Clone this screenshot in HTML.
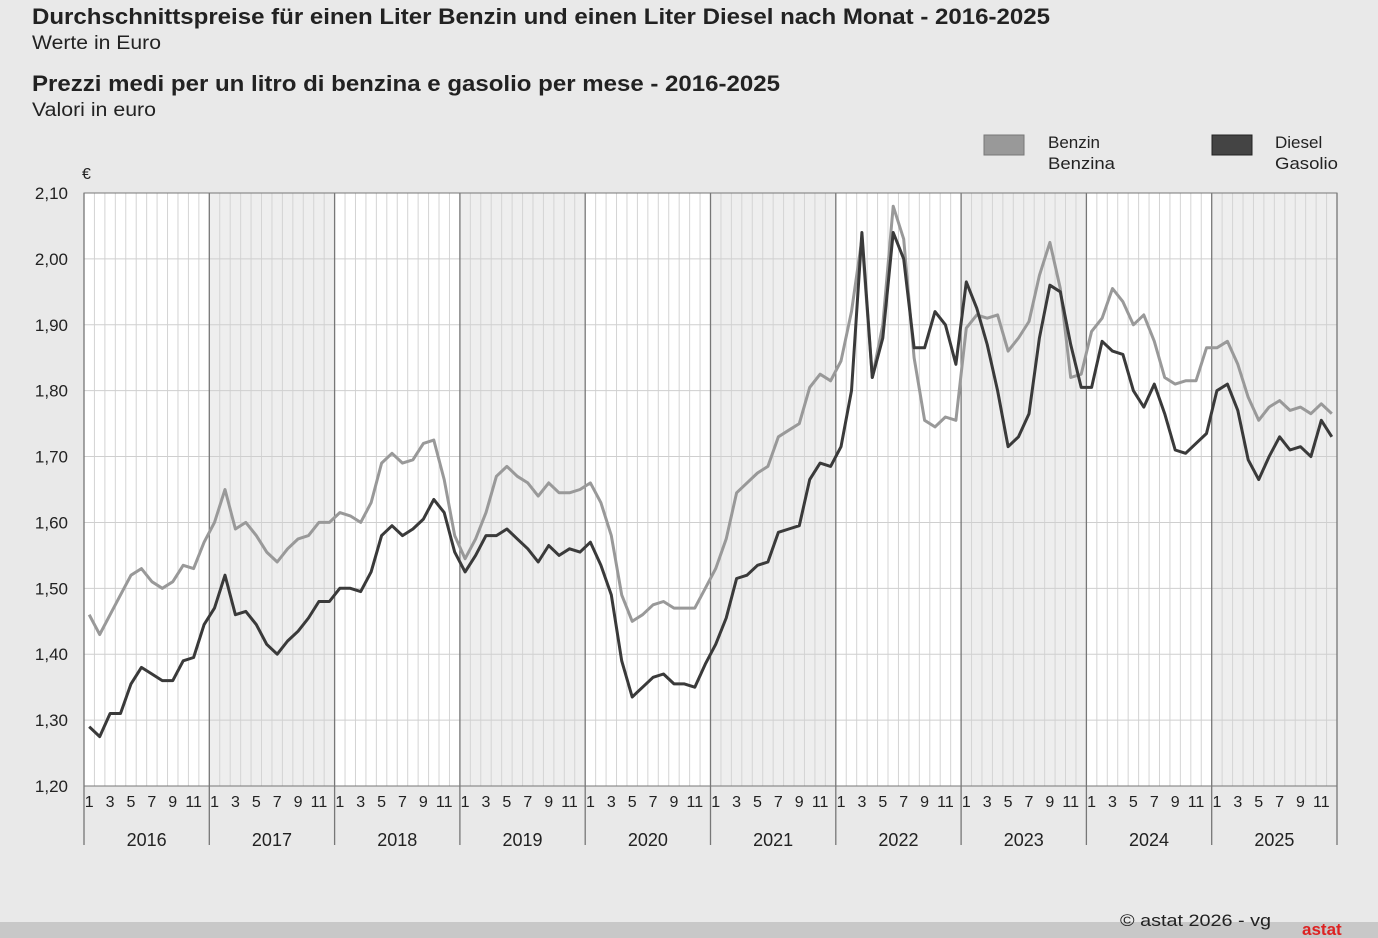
<!DOCTYPE html>
<html><head><meta charset="utf-8">
<style>
body{margin:0;background:#e9e9e9;font-family:"Liberation Sans",sans-serif;}
svg{display:block}
</style></head>
<body>
<svg id="s" width="1378" height="938" xmlns="http://www.w3.org/2000/svg" font-family="Liberation Sans, sans-serif">
<rect width="1378" height="938" fill="#e9e9e9"/>
<rect y="922" width="1378" height="16" fill="#c8c8c8"/>
<text x="32" y="24" font-size="22" font-weight="bold" fill="#222" textLength="1018" lengthAdjust="spacingAndGlyphs">Durchschnittspreise für einen Liter Benzin und einen Liter Diesel nach Monat - 2016-2025</text>
<text x="32" y="49" font-size="19" fill="#222" textLength="129" lengthAdjust="spacingAndGlyphs">Werte in Euro</text>
<text x="32" y="91" font-size="22" font-weight="bold" fill="#222" textLength="748" lengthAdjust="spacingAndGlyphs">Prezzi medi per un litro di benzina e gasolio per mese - 2016-2025</text>
<text x="32" y="116" font-size="19" fill="#222" textLength="124" lengthAdjust="spacingAndGlyphs">Valori in euro</text>
<rect x="984" y="135" width="40" height="20" fill="#999" stroke="#777"/>
<text x="1048" y="148" font-size="17" fill="#222">Benzin</text>
<text x="1048" y="169" font-size="17" fill="#222" textLength="67" lengthAdjust="spacingAndGlyphs">Benzina</text>
<rect x="1212" y="135" width="40" height="20" fill="#444" stroke="#222"/>
<text x="1275" y="148" font-size="17" fill="#222">Diesel</text>
<text x="1275" y="169" font-size="17" fill="#222" textLength="63" lengthAdjust="spacingAndGlyphs">Gasolio</text>
<text x="82" y="179" font-size="16" fill="#222">€</text>
<text x="1120" y="926" font-size="17" fill="#222" textLength="151" lengthAdjust="spacingAndGlyphs">© astat 2026 - vg</text>
<text x="1302" y="935" font-size="17" font-weight="bold" fill="#d22">astat</text>
<g id="g"></g>
</svg>
<script>
var g=document.getElementById('g'),h='';
var X0=84,X1=1337,Y0=193,Y1=786,mw=(X1-X0)/120;
function y(v){return Y1-(v-1.2)/0.9*(Y1-Y0);}
h+='<rect x="'+X0+'" y="'+Y0+'" width="'+(X1-X0)+'" height="'+(Y1-Y0)+'" fill="#fff"/>';
for(var yr=0;yr<10;yr++){if(yr%2==1)h+='<rect x="'+(X0+yr*12*mw)+'" y="'+Y0+'" width="'+(12*mw)+'" height="'+(Y1-Y0)+'" fill="#eeeeee"/>';}
for(var i=1;i<120;i++){if(i%12)h+='<line x1="'+(X0+i*mw)+'" x2="'+(X0+i*mw)+'" y1="'+Y0+'" y2="'+Y1+'" stroke="#d4d4d4" stroke-width="1"/>';}
for(var k=0;k<=9;k++){var v=1.2+k*0.1,yy=y(v);h+='<line x1="'+X0+'" x2="'+X1+'" y1="'+yy+'" y2="'+yy+'" stroke="#cfcfcf"/>';
h+='<text x="68" y="'+(yy+6)+'" font-size="17" text-anchor="end" fill="#222">'+v.toFixed(2).replace('.',',')+'</text>';}
for(var yr=0;yr<=10;yr++){var xx=X0+yr*12*mw;h+='<line x1="'+xx+'" x2="'+xx+'" y1="'+Y0+'" y2="845" stroke="#777" stroke-width="1.3"/>';
if(yr<10)h+='<text x="'+(xx+6*mw)+'" y="846" font-size="18" text-anchor="middle" fill="#222">'+(2016+yr)+'</text>';}
h+='<rect x="'+X0+'" y="'+Y0+'" width="'+(X1-X0)+'" height="'+(Y1-Y0)+'" fill="none" stroke="#777"/>';
for(var i=0;i<120;i+=2){h+='<text x="'+(X0+(i+0.5)*mw)+'" y="807" font-size="16" text-anchor="middle" fill="#222">'+((i%12)+1)+'</text>';}
var B=[1.46,1.43,1.46,1.49,1.52,1.53,1.51,1.50,1.51,1.535,1.53,1.57,
1.60,1.65,1.59,1.60,1.58,1.555,1.54,1.56,1.575,1.58,1.60,1.60,
1.615,1.61,1.60,1.63,1.69,1.705,1.69,1.695,1.72,1.725,1.665,1.58,
1.545,1.575,1.615,1.67,1.685,1.67,1.66,1.64,1.66,1.645,1.645,1.65,
1.66,1.63,1.58,1.49,1.45,1.46,1.475,1.48,1.47,1.47,1.47,1.50,
1.53,1.575,1.645,1.66,1.675,1.685,1.73,1.74,1.75,1.805,1.825,1.815,
1.845,1.92,2.03,1.82,1.90,2.08,2.03,1.85,1.755,1.745,1.76,1.755,
1.895,1.915,1.91,1.915,1.86,1.88,1.905,1.975,2.025,1.955,1.82,1.825,
1.89,1.91,1.955,1.935,1.90,1.915,1.875,1.82,1.81,1.815,1.815,1.865,
1.865,1.875,1.84,1.79,1.755,1.775,1.785,1.77,1.775,1.765,1.78,1.765];
var D=[1.29,1.275,1.31,1.31,1.355,1.38,1.37,1.36,1.36,1.39,1.395,1.445,
1.47,1.52,1.46,1.465,1.445,1.415,1.40,1.42,1.435,1.455,1.48,1.48,
1.50,1.50,1.495,1.525,1.58,1.595,1.58,1.59,1.605,1.635,1.615,1.555,
1.525,1.55,1.58,1.58,1.59,1.575,1.56,1.54,1.565,1.55,1.56,1.555,
1.57,1.535,1.49,1.39,1.335,1.35,1.365,1.37,1.355,1.355,1.35,1.385,
1.415,1.455,1.515,1.52,1.535,1.54,1.585,1.59,1.595,1.665,1.69,1.685,
1.715,1.80,2.04,1.82,1.88,2.04,2.00,1.865,1.865,1.92,1.90,1.84,
1.965,1.925,1.87,1.80,1.715,1.73,1.765,1.88,1.96,1.95,1.87,1.805,
1.805,1.875,1.86,1.855,1.80,1.775,1.81,1.765,1.71,1.705,1.72,1.735,
1.80,1.81,1.77,1.695,1.665,1.70,1.73,1.71,1.715,1.70,1.755,1.73];
function pl(a,c){return '<polyline fill="none" stroke="'+c+'" stroke-width="3" stroke-linejoin="round" points="'+a.map(function(v,i){return (X0+(i+0.5)*mw).toFixed(1)+','+y(v).toFixed(1)}).join(' ')+'"/>';}
h+=pl(B,'#999')+pl(D,'#3a3a3a');
g.innerHTML=h;
</script>
</body></html>
